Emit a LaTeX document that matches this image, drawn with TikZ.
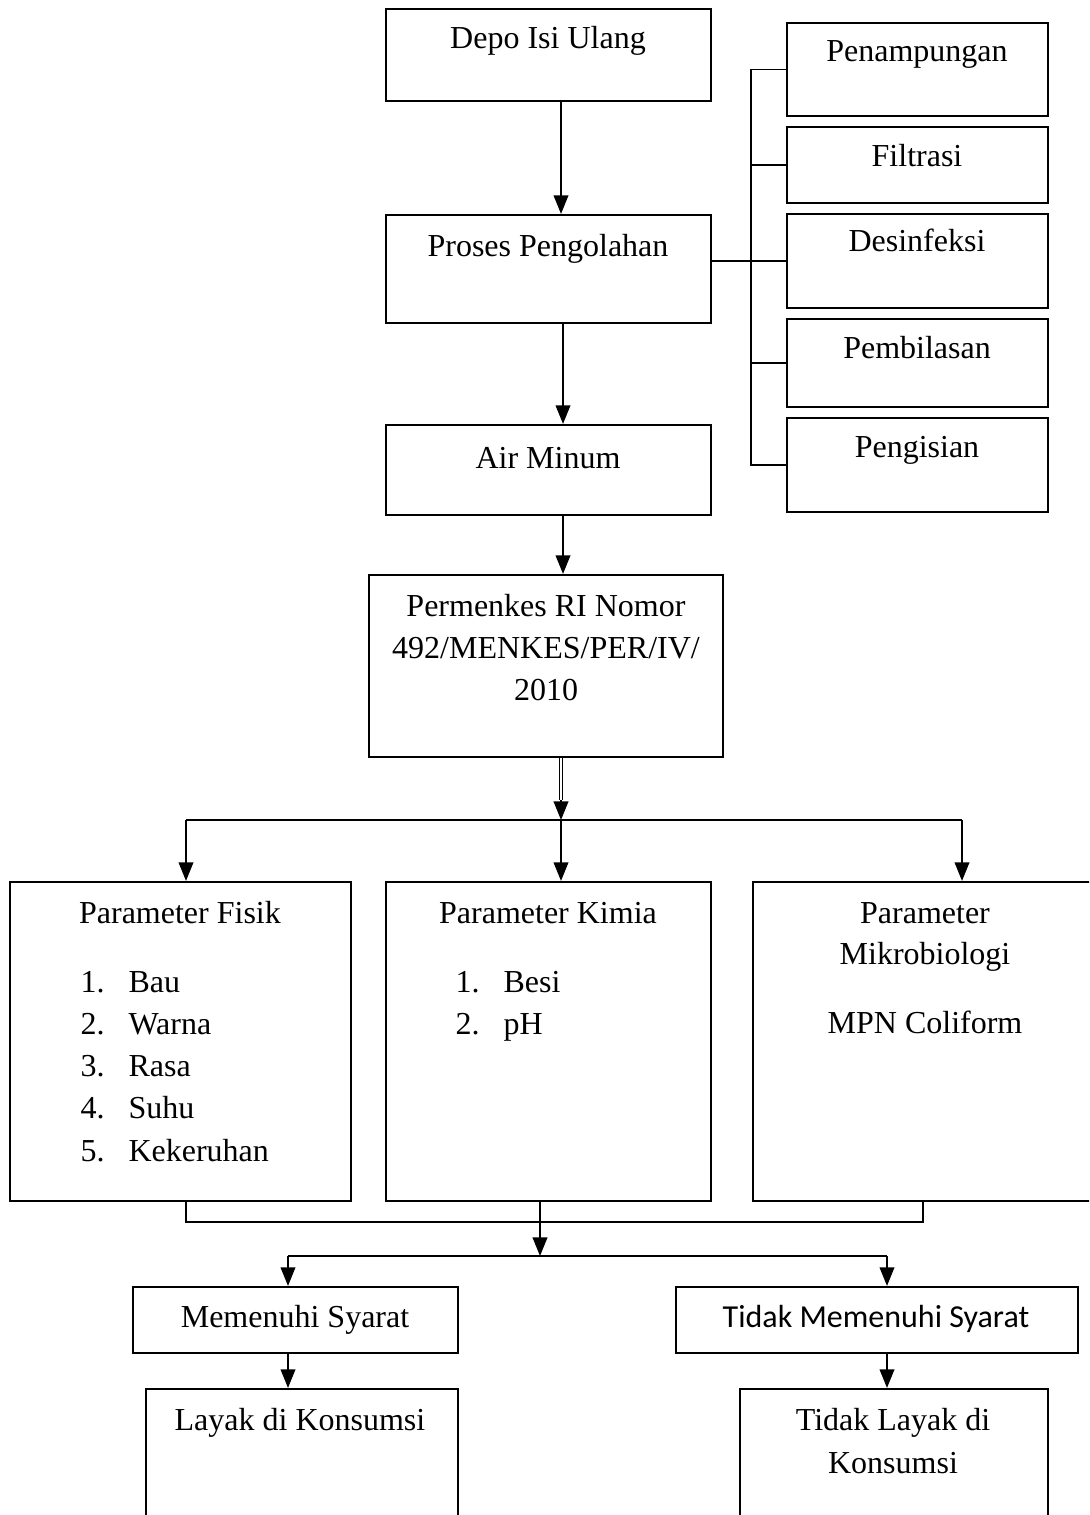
\documentclass[tikz,border=0pt]{standalone}
\usepackage{fontspec}
\setmainfont{Liberation Serif}
\newfontfamily\calib{Carlito}
\usetikzlibrary{arrows.meta}
\begin{document}
\begin{tikzpicture}[x=0.375pt,y=-0.375pt]
\tikzset{
 box/.style={draw, line width=0.8pt, inner sep=0pt},
 conn/.style={line width=0.7pt},
 arr/.style={conn, -{Triangle[width=5.5pt,length=7pt]}},
 dbl/.style={line width=0.6pt, double, double distance=0.5pt},
 txt/.style={inner sep=0pt, anchor=base, font=\fontsize{12}{14}\selectfont},
 ltxt/.style={txt, anchor=base west},
}
\newcommand\bx[5]{\node[box, minimum width={(#4-#2)*0.375pt}, minimum height={(#5-#3)*0.375pt}] (#1) at ({(#2+#4)/2},{(#3+#5)/2}) {};}
\clip (0,0) rectangle (1089,1515);
% boxes
\bx{depo}{386}{9}{711}{101}
\bx{proses}{386}{215}{711}{323}
\bx{air}{386}{425}{711}{515}
\bx{perm}{369}{575}{723}{757}
\bx{pen}{787}{23}{1048}{116}
\bx{fil}{787}{127}{1048}{203}
\bx{des}{787}{214}{1048}{308}
\bx{pem}{787}{319}{1048}{407}
\bx{peng}{787}{418}{1048}{512}
\bx{fis}{10}{882}{351}{1201}
\bx{kim}{386}{882}{711}{1201}
\bx{mik}{753}{882}{1110}{1201}
\bx{memb}{133}{1287}{458}{1353}
\bx{tmemb}{676}{1287}{1078}{1353}
\bx{layb}{146}{1389}{458}{1545}
\bx{tlayb}{740}{1389}{1048}{1545}
% texts
\node[txt] (xdepo) at (548,49) {Depo Isi Ulang};
\node[txt] (xproses) at (548,257) {Proses Pengolahan};
\node[txt] (xair) at (548,468) {Air Minum};
\node[txt] (xperm1) at (546,616) {Permenkes RI Nomor};
\node[txt] (xperm2) at (546,658) {492/MENKES/PER/IV/};
\node[txt] (xperm3) at (546,700) {2010};
\node[txt] (xpen) at (917,62) {Penampungan};
\node[txt] (xfil) at (917,167) {Filtrasi};
\node[txt] (xdes) at (917,252) {Desinfeksi};
\node[txt] (xpem) at (917,358) {Pembilasan};
\node[txt] (xpeng) at (917,457) {Pengisian};
\node[txt] (xfis) at (180,923) {Parameter Fisik};
\node[ltxt] (f1n) at (80,992) {1.};
\node[ltxt] (f1) at (128,992) {Bau};
\node[ltxt] (f2n) at (80,1034) {2.};
\node[ltxt] (f2) at (128,1034) {Warna};
\node[ltxt] (f3n) at (80,1076) {3.};
\node[ltxt] (f3) at (128,1076) {Rasa};
\node[ltxt] (f4n) at (80,1118) {4.};
\node[ltxt] (f4) at (128,1118) {Suhu};
\node[ltxt] (f5n) at (80,1161) {5.};
\node[ltxt] (f5) at (128,1161) {Kekeruhan};
\node[txt] (xkim) at (548,923) {Parameter Kimia};
\node[ltxt] (k1n) at (455,992) {1.};
\node[ltxt] (k1) at (503,992) {Besi};
\node[ltxt] (k2n) at (455,1034) {2.};
\node[ltxt] (k2) at (503,1034) {pH};
\node[txt] (xmik1) at (925,923) {Parameter};
\node[txt] (xmik2) at (925,964) {Mikrobiologi};
\node[txt] (xmik3) at (925,1033) {MPN Coliform};
\node[txt] (xmem) at (295,1327) {Memenuhi Syarat};
\node[txt, font=\calib\fontsize{12}{14}\selectfont] (xtmem) at (876,1327) {Tidak Memenuhi Syarat};
\node[txt] (xlay) at (300,1430) {Layak di Konsumsi};
\node[txt] (xtlay1) at (893,1430) {Tidak Layak di};
\node[txt] (xtlay2) at (893,1473) {Konsumsi};
% coordinates
\coordinate (cx) at (561,0);
\coordinate (cy) at (563,0);
\coordinate (bx) at (751,0);
\coordinate (d1) at (561,800);
\coordinate (jT) at (561,820);
\coordinate (jL) at (186,820);
\coordinate (jR) at (962,820);
\coordinate (bL) at (186,1222);
\coordinate (bR) at (923,1222);
\coordinate (bC) at (540,1222);
\coordinate (mC) at (540,1256);
\coordinate (mL) at (288,1256);
\coordinate (mR) at (887,1256);
% connectors
\draw[arr] (depo.south -| cx) -- (proses.north -| cx);
\draw[arr] (proses.south -| cy) -- (air.north -| cy);
\draw[arr] (air.south -| cy) -- (perm.north -| cy);
\draw[conn] (pen.west) -- (pen.west -| bx) -- (peng.west -| bx) -- (peng.west);
\draw[conn] (fil.west) -- (fil.west -| bx);
\draw[conn] (des.west -| proses.east) -- (des.west);
\draw[conn] (pem.west) -- (pem.west -| bx);
\draw[dbl] (perm.south -| cx) -- (d1);
\draw[arr] (d1) -- (jT);
\draw[conn] (jL) -- (jR);
\draw[arr] (jT) -- (kim.north -| jT);
\draw[arr] (jL) -- (fis.north -| jL);
\draw[arr] (jR) -- (mik.north -| jR);
\draw[conn] (fis.south -| bL) -- (bL) -- (bR) -- (mik.south -| bR);
\draw[conn] (kim.south -| bC) -- (bC);
\draw[arr] (bC) -- (mC);
\draw[conn] (mL) -- (mR);
\draw[arr] (mL) -- (memb.north -| mL);
\draw[arr] (mR) -- (tmemb.north -| mR);
\draw[arr] (memb.south -| mL) -- (layb.north -| mL);
\draw[arr] (tmemb.south -| mR) -- (tlayb.north -| mR);
\end{tikzpicture}
\end{document}
